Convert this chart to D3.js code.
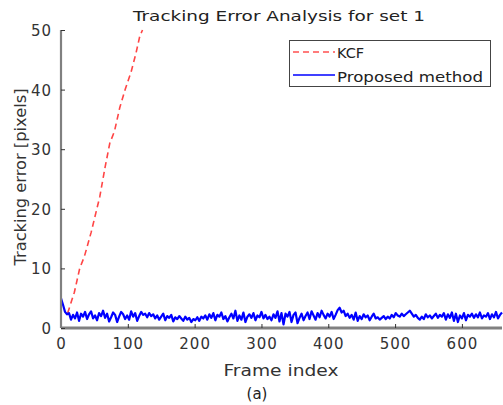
<!DOCTYPE html>
<html><head><meta charset="utf-8">
<script src="https://cdn.jsdelivr.net/npm/d3@7"></script>
<style>
html,body{margin:0;padding:0;background:#fff;}
svg{display:block;}
text{font-family:"DejaVu Sans",Verdana,sans-serif;}
</style></head>
<body>
<svg id="c" width="503" height="405"></svg>
<script>
const titleText = "Tracking Error Analysis for set 1";
const xLabel = "Frame index";
const yLabel = "Tracking error [pixels]";
const caption = "(a)";
const seriesNames = ["KCF", "Proposed method"];
const xTicks = [0,100,200,300,400,500,600];
const yTicks = [0,10,20,30,40,50];

// KCF: [frame, error]
const kcfFrames = [10,20,28,35,45,58,66,73,80,88,96,105,112,118,122];
const kcfErrors = [2.5,6,10,12,16,22,27,31,33,37,40,43,46,49,50];

// Proposed method: one value every 3 frames, frames 0..660
const propStep = 3;
const propErrors = [
5.0,3.9,2.7,2.3,2.5,1.4,2.2,1.6,2.6,1.2,2.4,1.9,2.7,1.5,2.3,2.8,1.6,2.1,1.3,2.5,
2.0,2.9,1.7,2.4,1.1,1.8,2.6,2.2,1.0,1.9,2.7,2.3,1.5,2.1,1.4,2.8,1.9,2.5,1.2,2.0,
2.7,2.2,2.4,1.8,2.5,2.0,2.3,1.6,2.1,1.4,1.9,2.4,1.3,2.0,1.7,2.2,1.1,1.8,1.5,2.0,
1.6,1.2,1.9,1.4,1.7,1.0,1.5,1.3,1.8,1.2,1.9,1.6,2.1,1.4,2.3,1.7,2.5,1.3,2.2,1.9,
2.6,1.5,2.0,1.1,1.8,2.4,1.6,2.9,1.2,2.1,1.4,2.6,1.0,1.9,2.3,1.7,2.5,1.3,2.1,1.8,
2.7,1.6,2.2,1.5,1.9,1.3,2.3,1.7,2.8,1.1,2.5,0.6,2.4,1.9,2.7,1.0,2.2,2.6,0.8,1.7,
2.4,1.3,2.0,2.6,1.5,2.8,2.1,1.4,2.5,1.8,2.9,2.2,1.6,2.4,1.9,2.7,1.5,2.2,3.0,3.4,
2.6,2.9,2.0,2.4,1.7,2.2,1.4,2.6,1.2,2.0,1.5,2.3,1.8,2.1,1.3,1.9,2.4,1.6,1.8,1.4,
1.7,2.0,1.5,1.9,1.6,2.2,1.8,2.5,2.1,1.9,2.4,2.0,2.3,2.6,2.9,2.4,1.9,2.2,1.7,1.4,
1.9,1.5,2.3,1.8,2.1,1.6,2.0,2.4,1.7,2.2,1.9,2.5,1.4,2.3,1.7,2.6,1.2,2.4,1.0,2.1,
1.6,2.5,1.3,2.2,1.9,2.4,1.7,2.3,1.8,2.6,1.6,2.1,1.9,2.5,1.5,2.3,1.8,2.7,1.6,2.2,
2.6];

const svg = d3.select("#c");
const L = 61, R = 502, T = 30, B = 328;
const x = d3.scaleLinear().domain([0,660]).range([L,R]);
const y = d3.scaleLinear().domain([0,50]).range([B,T]);

const kcf = kcfFrames.map((f,i)=>[f,kcfErrors[i]]);
const prop = propErrors.map((v,i)=>[i*propStep,v]);

const line = d3.line().x(d=>x(d[0])).y(d=>y(d[1]));

// lines
svg.append("path").attr("d", line(kcf)).attr("fill","none")
  .attr("stroke","#ff4545").attr("stroke-width",1.6).attr("stroke-dasharray","6,4");
svg.append("path").attr("d", line(prop)).attr("fill","none")
  .attr("stroke","#0000ff").attr("stroke-width",2.2).attr("stroke-linejoin","round");

// axes
const xAxis = d3.axisBottom(x).tickValues(xTicks).tickSize(-4).tickPadding(8).tickFormat(d3.format("d"));
const gx = svg.append("g").attr("transform",`translate(0,${B})`).call(xAxis);
gx.select(".domain").attr("stroke","#808080").attr("stroke-width",3).attr("d",`M${L},0H${R}`);
gx.selectAll(".tick line").attr("stroke","#333").attr("stroke-width",1);
gx.selectAll(".tick text").attr("font-size",15).attr("fill","#333").attr("letter-spacing",1)
  .attr("font-family","DejaVu Sans").attr("dy","0.85em");

const yAxis = d3.axisLeft(y).tickValues(yTicks).tickSize(-4).tickPadding(9).tickFormat(d3.format("d"));
const gy = svg.append("g").attr("transform",`translate(${L},0)`).call(yAxis);
gy.select(".domain").attr("stroke","#808080").attr("stroke-width",2.2).attr("d",`M0,${T}V${B}`);
gy.selectAll(".tick line").attr("stroke","#333").attr("stroke-width",1);
gy.selectAll(".tick text").attr("font-size",15).attr("fill","#333").attr("letter-spacing",1)
  .attr("font-family","DejaVu Sans").attr("dy","0.36em");

// title & labels
svg.append("text").attr("x",279).attr("y",21).attr("text-anchor","middle")
  .attr("font-size",14.5).attr("fill","#222").attr("textLength",292).attr("lengthAdjust","spacingAndGlyphs")
  .text(titleText);
svg.append("text").attr("x",281).attr("y",376).attr("text-anchor","middle")
  .attr("font-size",15).attr("fill","#333").attr("textLength",115).attr("lengthAdjust","spacingAndGlyphs")
  .text(xLabel);
svg.append("text").attr("transform","translate(26,177) rotate(-90)").attr("text-anchor","middle")
  .attr("font-size",15).attr("fill","#333").attr("textLength",177).attr("lengthAdjust","spacingAndGlyphs")
  .text(yLabel);
svg.append("text").attr("x",257).attr("y",399).attr("text-anchor","middle")
  .attr("font-size",15).attr("fill","#222").attr("font-family","'DejaVu Serif','Liberation Serif',serif")
  .text(caption);

// legend
const lg = svg.append("g");
lg.append("rect").attr("x",289.5).attr("y",40.5).attr("width",201).attr("height",46)
  .attr("fill","#fff").attr("stroke","#444").attr("stroke-width",1);
const legendItems = [
  {name:seriesNames[0], color:"#ff5050", dash:"6,4", w:1.6, ty:58, ly:52},
  {name:seriesNames[1], color:"#0000ff", dash:null, w:1.5, ty:82, ly:75}
];
legendItems.forEach((d,i)=>{
  lg.append("line").attr("x1",293).attr("x2",335).attr("y1",d.ly).attr("y2",d.ly)
    .attr("stroke",d.color).attr("stroke-width",d.w).attr("stroke-dasharray",d.dash);
  const t = lg.append("text").attr("x",337).attr("y",d.ty).attr("font-size",14.5).attr("fill","#222").text(d.name);
  if(i===1) t.attr("textLength",146).attr("lengthAdjust","spacingAndGlyphs");
});
</script>
</body></html>
